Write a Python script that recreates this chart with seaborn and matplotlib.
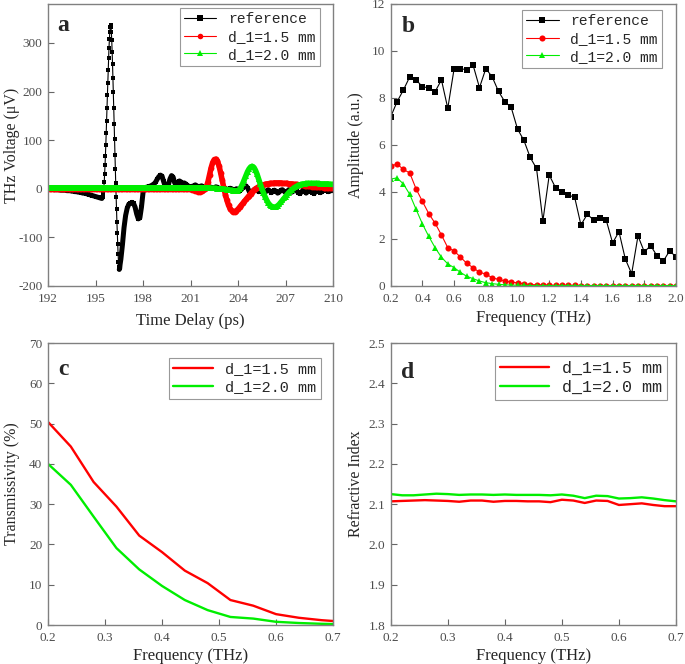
import numpy as np
import seaborn as sns
import matplotlib.pyplot as plt

# --- data: (a) time-domain THz signal ---
t_ref_pre = np.round(np.linspace(192.0, 195.4, 35), 3)
t_ref_spike = np.round(np.linspace(195.45, 196.55, 45), 3)
t_ref_post = np.round(np.linspace(196.6, 210.0, 135), 3)
t_ref = np.concatenate([t_ref_pre, t_ref_spike, t_ref_post])

v_ref = [
    -1, -1, -1, -1, -2, -2, -2, -2, -3, -3,
    -3, -3, -4, -4, -4, -5, -5, -6, -6, -7,
    -7, -8, -9, -9, -10, -11, -12, -13, -14, -15,
    -16, -17, -18, -19, -20,
    # main pulse
    -18, -15, -8, 2, 14, 30, 48, 68, 90, 114,
    140, 166, 192, 218, 244, 268, 290, 308, 322, 332,
    336, 333, 322, 305, 282, 256, 228, 198, 166, 134,
    102, 70, 40, 12, -16, -42, -68, -92, -114, -134,
    -150, -161, -166, -164, -156,
    # after the pulse
    -145, -115, -80, -55, -40, -32, -30, -28, -30, -38,
    -52, -62, -60, -38, -8, 2, 3, 4, 5, 6,
    8, 10, 14, 20, 25, 28, 26, 15, 5, 4,
    8, 20, 27, 24, 12, 8, 12, 16, 14, 10,
    12, 10, 7, 5, 4, 5, 6, 8, 6, 3,
    5, 6, 4, 2, 1, 2, 4, 3, 1, 2,
    4, 3, 1, -1, 0, 2, 1, -2, -1, 1,
    0, -3, -2, 0, -1, -4, -2, 2, 5, 6,
    2, -5, -9, -6, -2, -1, -3, -6, -4, -1,
    -3, -7, -5, -2, -4, -8, -6, -3, -5, -9,
    -7, -3, -2, -5, -8, -6, -2, -4, -7, -5,
    -2, -4, -8, -10, -7, -3, -5, -9, -6, -2,
    -4, -8, -10, -6, -3, -5, -8, -6, -3, -2,
    -4, -6, -5, -3, -4,
]

t_sam = np.round(np.linspace(192.0, 210.0, 181), 2)
v_15 = [
    -1, -1, -1, -1, -1, -1, -1, -1, -1, -1,
    -1, -1, -1, -1, -1, -1, -1, -1, -1, -1,
    -1, -1, -1, -1, -1, -1, -1, -1, -1, -1,
    -1, -1, -1, -1, -1, -1, -1, -1, -1, -1,
    -1, -1, -1, -1, -1, -1, -1, -1, -1, -1,
    -1, -1, -1, -1, -1, -1, -1, -1, -1, -1,
    -1, -1, -1, -1, -1, -1, -1, -1, -1, -1,
    -1, -1, -1, -1, -1, -1, -1, -1, -1, -1,
    -1, -1, -1, -1, -1, -1, -1, -1, -1, -1,
    -1, -2, -3, -4, -5, -6, -6, -5, -3, -1,
    4, 14, 28, 43, 54, 60, 61, 57, 47, 33,
    17, 2, -12, -24, -34, -41, -45, -47, -47, -45,
    -42, -38, -34, -30, -26, -22, -18, -14, -10, -6,
    -3, 0, 2, 4, 6, 7, 8, 9, 10, 10,
    11, 11, 11, 12, 12, 12, 12, 12, 11, 11,
    11, 11, 10, 10, 10, 9, 9, 9, 8, 8,
    7, 7, 6, 6, 5, 5, 5, 4, 4, 4,
    3, 3, 3, 3, 2, 2, 2, 2, 1, 1,
    1,
]
v_20 = [
    2, 2, 2, 2, 2, 2, 2, 2, 2, 2,
    2, 2, 2, 2, 2, 2, 2, 2, 2, 2,
    2, 2, 2, 2, 2, 2, 2, 2, 2, 2,
    2, 2, 2, 2, 2, 2, 2, 2, 2, 2,
    2, 2, 2, 2, 2, 2, 2, 2, 2, 2,
    2, 2, 2, 2, 2, 2, 2, 2, 2, 2,
    2, 2, 2, 2, 2, 2, 2, 2, 2, 2,
    2, 2, 2, 2, 2, 2, 2, 2, 2, 2,
    2, 2, 2, 2, 2, 2, 2, 2, 2, 2,
    2, 2, 2, 2, 2, 2, 2, 2, 2, 2,
    2, 2, 2, 1, 1, 1, 1, 0, 0, 0,
    0, -1, -1, -2, -2, -3, -3, -4, -4, -5,
    -4, -1, 4, 11, 19, 27, 35, 41, 45, 46,
    44, 38, 30, 20, 10, 1, -8, -16, -23, -29,
    -33, -36, -38, -38, -37, -35, -32, -28, -24, -20,
    -16, -12, -8, -5, -2, 1, 3, 5, 7, 8,
    9, 10, 10, 11, 11, 11, 11, 11, 11, 11,
    11, 11, 10, 10, 10, 10, 10, 10, 9, 9,
    9,
]

# --- data: (b) amplitude spectra ---
f_amp = np.round(np.linspace(0.2, 2.0, 46), 2)
amp_ref = [
    7.20, 7.84, 8.34, 8.90, 8.77, 8.48, 8.43, 8.27, 8.77, 7.56,
    9.25, 9.25, 9.20, 9.39, 8.44, 9.25, 8.90, 8.28, 7.84, 7.60,
    6.68, 6.20, 5.47, 5.00, 2.77, 4.72, 4.18, 3.99, 3.86, 3.79,
    2.60, 3.05, 2.81, 2.91, 2.79, 1.83, 2.31, 1.15, 0.52, 2.13,
    1.45, 1.72, 1.28, 1.06, 1.50, 1.23,
]
amp_15 = [
    5.10, 5.19, 4.96, 4.81, 4.13, 3.60, 3.08, 2.67, 2.17, 1.63,
    1.49, 1.23, 0.96, 0.78, 0.58, 0.51, 0.35, 0.28, 0.21, 0.17,
    0.13, 0.10, 0.06, 0.05, 0.04, 0.04, 0.03, 0.03, 0.03, 0.03,
    0.02, 0.02, 0.02, 0.02, 0.02, 0.02, 0.02, 0.02, 0.02, 0.02,
    0.02, 0.02, 0.02, 0.02, 0.02, 0.02,
]
amp_20 = [
    4.55, 4.60, 4.34, 3.90, 3.26, 2.64, 2.11, 1.63, 1.22, 0.94,
    0.78, 0.58, 0.41, 0.31, 0.21, 0.14, 0.10, 0.07, 0.05, 0.04,
    0.03, 0.03, 0.02, 0.02, 0.02, 0.02, 0.02, 0.02, 0.02, 0.02,
    0.02, 0.02, 0.02, 0.02, 0.02, 0.02, 0.02, 0.02, 0.02, 0.02,
    0.02, 0.02, 0.02, 0.02, 0.02, 0.02,
]

# --- data: (c) transmissivity ---
f_tr = np.round(np.linspace(0.2, 0.72, 14), 2)
tr_15 = [50.4, 44.3, 35.5, 29.4, 22.2, 18.1, 13.5, 10.4, 6.2, 4.8, 2.7, 1.8, 1.2, 0.8]
tr_20 = [40.0, 34.8, 26.9, 19.1, 13.8, 9.7, 6.2, 3.7, 2.0, 1.6, 0.8, 0.5, 0.3, 0.2]

# --- data: (d) refractive index ---
f_n = np.round(np.linspace(0.2, 0.7, 26), 2)
n_15 = [
    2.107, 2.108, 2.109, 2.110, 2.109, 2.108, 2.106, 2.109, 2.109, 2.106,
    2.108, 2.108, 2.107, 2.107, 2.105, 2.111, 2.109, 2.103, 2.109, 2.108,
    2.098, 2.100, 2.102, 2.098, 2.095, 2.095,
]
n_20 = [
    2.125, 2.122, 2.122, 2.124, 2.126, 2.125, 2.123, 2.124, 2.124, 2.123,
    2.124, 2.123, 2.123, 2.123, 2.122, 2.124, 2.121, 2.115, 2.121, 2.120,
    2.114, 2.115, 2.117, 2.114, 2.110, 2.107,
]

labels = ['reference', 'd_1=1.5 mm', 'd_1=2.0 mm']
RED = '#ff0000'
GREEN = '#00ee00'

sns.set_theme(style='white')
plt.rcParams['font.family'] = ['Liberation Serif', 'DejaVu Serif']
plt.rcParams['axes.unicode_minus'] = False

fig = plt.figure(figsize=(6.85, 6.64), dpi=100)
ax_a = fig.add_axes([0.0701, 0.5693, 0.4161, 0.4247])
ax_b = fig.add_axes([0.5704, 0.5693, 0.4165, 0.4247])
ax_c = fig.add_axes([0.0701, 0.0587, 0.4161, 0.4247])
ax_d = fig.add_axes([0.5704, 0.0587, 0.4165, 0.4247])


def style_axes(ax, letter, lx, ly, ylab_x):
    for sp in ax.spines.values():
        sp.set_color('0.5')
        sp.set_linewidth(1.0)
    ax.tick_params(direction='in', length=4, width=0.8, color='0.4',
                   labelsize=9.5, labelcolor='0.3', bottom=True, left=True,
                   top=False, right=False)
    ax.tick_params(axis='x', pad=5)
    ax.tick_params(axis='y', pad=4)
    ax.yaxis.set_label_coords(ylab_x, 0.5)
    ax.text(lx, ly, letter, transform=ax.transAxes, fontsize=17,
            fontweight='bold', ha='center', va='center')


def style_legend(ax, anchor, hl, size=10.5, lw=None):
    leg = ax.legend(loc='upper right', bbox_to_anchor=anchor, borderaxespad=0,
                    prop={'family': 'Liberation Mono', 'size': size},
                    frameon=True, fancybox=False, handlelength=hl,
                    labelspacing=0.25, handletextpad=0.8, borderpad=0.3)
    leg.get_frame().set_edgecolor('0.6')
    leg.get_frame().set_linewidth(0.8)
    leg.get_frame().set_alpha(1)
    if lw is not None:
        for h in leg.legend_handles:
            h.set_linewidth(lw)
            h.set_markersize(4)
    return leg


# --- panel a ---
# dense samples away from the main pulse merge into a thick band
n_pre = len(t_ref_pre)
n_post = len(t_ref_post)
sns.lineplot(x=t_ref[:n_pre], y=v_ref[:n_pre], ax=ax_a, color='black', lw=3.6,
             sort=False, estimator=None)
sns.lineplot(x=t_ref[-n_post - 3:], y=v_ref[-n_post - 3:], ax=ax_a,
             color='black', lw=3.6, sort=False, estimator=None)
sns.lineplot(x=t_ref, y=v_ref, ax=ax_a, color='black', lw=0.8, marker='s',
             markersize=3.4, markeredgewidth=0, sort=False, estimator=None,
             label=labels[0])
sns.lineplot(x=t_sam, y=v_15, ax=ax_a, color=RED, lw=4.0, marker='o',
             markersize=4.2, markeredgewidth=0, sort=False, estimator=None,
             label=labels[1])
sns.lineplot(x=t_sam, y=v_20, ax=ax_a, color=GREEN, lw=4.0, marker='^',
             markersize=4.6, markeredgewidth=0, sort=False, estimator=None,
             label=labels[2])
ax_a.set_xlim(192, 210)
ax_a.set_ylim(-200, 380)
ax_a.set_xticks(np.arange(192, 211, 3))
ax_a.set_yticks(np.arange(-200, 301, 100))
ax_a.set_xlabel('Time Delay (ps)', fontsize=12, labelpad=6)
ax_a.set_ylabel('THz Voltage (μV)', fontsize=11.5)
style_axes(ax_a, 'a', 0.053, 0.925, -0.098)
style_legend(ax_a, (0.954, 0.986), 2.2, lw=0.8)

# --- panel b ---
sns.lineplot(x=f_amp, y=amp_ref, ax=ax_b, color='black', lw=0.8, marker='s',
             markersize=4.2, markeredgewidth=0, estimator=None, label=labels[0])
sns.lineplot(x=f_amp, y=amp_15, ax=ax_b, color=RED, lw=0.8, marker='o',
             markersize=4.4, markeredgewidth=0, estimator=None, label=labels[1])
sns.lineplot(x=f_amp, y=amp_20, ax=ax_b, color=GREEN, lw=0.8, marker='^',
             markersize=4.6, markeredgewidth=0, estimator=None, label=labels[2])
ax_b.set_xlim(0.2, 2.0)
ax_b.set_ylim(0, 12)
ax_b.set_xticks(np.round(np.arange(0.2, 2.01, 0.2), 1))
ax_b.set_xticklabels([f'{v:.1f}' for v in np.arange(0.2, 2.01, 0.2)])
ax_b.set_yticks(np.arange(0, 13, 2))
ax_b.set_xlabel('Frequency (THz)', fontsize=12, labelpad=4)
ax_b.set_ylabel('Amplitude (a.u.)', fontsize=11.5)
style_axes(ax_b, 'b', 0.06, 0.92, -0.094)
style_legend(ax_b, (0.951, 0.979), 2.2)

# --- panel c ---
sns.lineplot(x=f_tr, y=tr_15, ax=ax_c, color=RED, lw=1.7, estimator=None,
             label=labels[1])
sns.lineplot(x=f_tr, y=tr_20, ax=ax_c, color=GREEN, lw=1.7, estimator=None,
             label=labels[2])
ax_c.set_xlim(0.2, 0.7)
ax_c.set_ylim(0, 70)
ax_c.set_xticks(np.round(np.arange(0.2, 0.71, 0.1), 1))
ax_c.set_yticks(np.arange(0, 71, 10))
ax_c.set_xlabel('Frequency (THz)', fontsize=12, labelpad=3)
ax_c.set_ylabel('Transmissivity (%)', fontsize=11.5)
style_axes(ax_c, 'c', 0.053, 0.905, -0.098)
style_legend(ax_c, (0.958, 0.948), 2.6, size=11)

# --- panel d ---
sns.lineplot(x=f_n, y=n_15, ax=ax_d, color=RED, lw=1.7, estimator=None,
             label=labels[1])
sns.lineplot(x=f_n, y=n_20, ax=ax_d, color=GREEN, lw=1.7, estimator=None,
             label=labels[2])
ax_d.set_xlim(0.2, 0.7)
ax_d.set_ylim(1.8, 2.5)
ax_d.set_xticks(np.round(np.arange(0.2, 0.71, 0.1), 1))
ax_d.set_yticks(np.round(np.arange(1.8, 2.51, 0.1), 1))
ax_d.set_yticklabels([f'{v:.1f}' for v in np.arange(1.8, 2.51, 0.1)])
ax_d.set_xlabel('Frequency (THz)', fontsize=12, labelpad=3)
ax_d.set_ylabel('Refractive Index', fontsize=11.5)
style_axes(ax_d, 'd', 0.058, 0.897, -0.094)
style_legend(ax_d, (0.968, 0.954), 2.9, size=12)

fig.savefig('out.png', dpi=100)
